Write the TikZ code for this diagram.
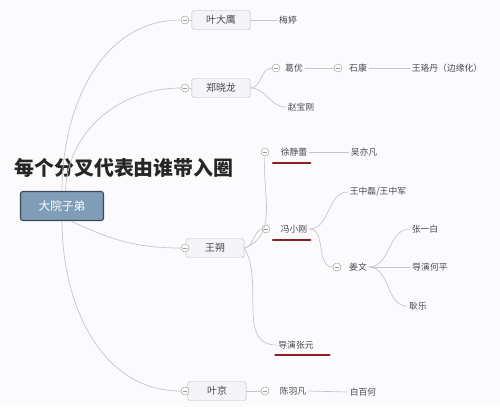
\documentclass[tikz,border=0pt]{standalone}
\usepackage{fontspec}
\newfontfamily\cjk{Noto Sans CJK SC}
\usetikzlibrary{positioning}
\definecolor{RootBlue}{HTML}{7F9DB6}
\definecolor{RootEdge}{HTML}{3E4853}
\definecolor{LinkGray}{HTML}{C6C6C8}
\definecolor{BoxEdge}{HTML}{BCBCBE}
\definecolor{BoxFill}{HTML}{F5F5F7}
\definecolor{TextGray}{HTML}{4A4A4E}
\definecolor{MarkRed}{HTML}{8C1E22}
\definecolor{PageBg}{HTML}{FBFBFD}

\begin{document}
\begin{tikzpicture}[x=0.03cm, y=-0.03cm,
    every node/.style={font=\cjk\fontsize{7.5}{9}\selectfont, text=TextGray},
    link/.style={draw=LinkGray, line width=0.6pt},
    rootbox/.style={draw=RootEdge, line width=0.9pt, fill=RootBlue, rounded corners=2pt, minimum width=2.49cm, minimum height=0.87cm, text=white, font=\cjk\fontsize{10}{12}\selectfont},
    branch/.style={draw=BoxEdge, fill=BoxFill, rounded corners=1.5pt, minimum width=1.75cm, minimum height=0.57cm, font=\cjk\fontsize{8.5}{10}\selectfont},
    leaf/.style={inner sep=1.5pt},
    fold/.style={circle, draw=gray!75, fill=white, inner sep=0pt, minimum size=0.24cm,
      path picture={\draw[gray!80, line width=0.5pt] ([xshift=-0.07cm]path picture bounding box.center) -- ([xshift=0.07cm]path picture bounding box.center);}},
    underline/.style={draw=MarkRed, line width=1.8pt, line cap=round}]
    \fill[PageBg] (0,0) rectangle (500,407);
    \useasboundingbox (0,0) rectangle (500,407);
    % root and title
    \node[rootbox] (root) at (62,206) {大院子弟};
    \node[font=\cjk\bfseries\fontsize{17}{19}\selectfont, text=black!85] (title) at (124,168) {每个分叉代表由谁带入圈};
    % first level
    \node[branch] (ydy) at (221,20) {叶大鹰};
    \node[fold] (fydy) at (185,20) {};
    \node[branch] (zxl) at (221,88) {郑晓龙};
    \node[fold] (fzxl) at (185,88) {};
    \node[branch] (ws) at (215,248) {王朔};
    \node[fold] (fws) at (185,248) {};
    \node[branch] (yj) at (217,391) {叶京};
    \node[fold] (fyj) at (185,391) {};
    % 叶大鹰 branch
    \node[leaf] (mt) at (288,20) {梅婷};
    % 郑晓龙 branch
    \node[fold] (fgy) at (276,68) {};
    \node[leaf] (gy) at (294,68) {葛优};
    \node[fold] (fsk) at (338,68) {};
    \node[leaf] (sk) at (358,68) {石康};
    \node[leaf] (wld) at (447,68) {王珞丹（边缘化）};
    \node[leaf] (zbg) at (301,107) {赵宝刚};
    % 王朔 branch
    \node[fold] (fxjl) at (265,152) {};
    \node[leaf] (xjl) at (294,152) {徐静蕾};
    \node[leaf] (wyf) at (364,152) {吴亦凡};
    \node[fold] (fxxg) at (266,229) {};
    \node[leaf] (xxg) at (294,229) {冯小刚};
    \node[leaf] (wzl) at (378,192) {王中磊/王中军};
    \node[fold] (fjw) at (337,267) {};
    \node[leaf] (jw) at (358,267) {姜文};
    \node[leaf] (zyb) at (425,229) {张一白};
    \node[leaf] (dhp) at (430,267) {导演何平};
    \node[leaf] (gl) at (418,306) {耿乐};
    \node[leaf] (dzy) at (296,345) {导演张元};
    % 叶京 branch
    \node[fold] (fcyf) at (265,391) {};
    \node[leaf] (cyf) at (293,391) {陈羽凡};
    \node[leaf] (bbh) at (363,392) {白百何};
    % links from root
    \draw[link] (root.north) to[out=90, in=180] (fydy.west);
    \draw[link] ([xshift=3pt]root.north) to[out=88, in=180] (fzxl.west);
    \draw[link] (root.-60) to[out=-25, in=180] (fws.west);
    \draw[link] (root.south) to[out=-90, in=180] (fyj.west);
    \draw[link] (fydy) -- (ydy);
    \draw[link] (fzxl) -- (zxl);
    \draw[link] (fws) -- (ws);
    \draw[link] (fyj) -- (yj);
    % second level links
    \draw[link] (ydy.east) -- (mt.west);
    \draw[link] (zxl.east) to[out=0, in=180] (fgy.west);
    \draw[link] (zxl.east) to[out=0, in=180] (zbg.west);
    \draw[link] (gy.east) -- (fsk.west);
    \draw[link] (sk.east) -- (wld.west);
    \draw[link] (ws.east) to[out=20, in=265] (fxjl.south);
    \draw[link] (ws.east) to[out=10, in=200] (fxxg.west);
    \draw[link] (ws.east) to[out=-60, in=180] (dzy.west);
    \draw[link] (xjl.east) -- (wyf.west);
    \draw[link] (xxg.east) to[out=0, in=180] (wzl.west);
    \draw[link] (xxg.east) to[out=0, in=180] (fjw.west);
    \draw[link] (jw.east) to[out=0, in=180] (zyb.west);
    \draw[link] (jw.east) -- (dhp.west);
    \draw[link] (jw.east) to[out=0, in=180] (gl.west);
    \draw[link] (yj.east) -- (fcyf.west);
    \draw[link] (cyf.east) -- (bbh.west);
    % red marks
    \draw[underline] ([xshift=-5pt, yshift=-4pt]xjl.south west) -- ([xshift=1pt, yshift=-4pt]xjl.south east);
    \draw[underline] ([xshift=-5pt, yshift=-4pt]xxg.south west) -- ([xshift=1pt, yshift=-4pt]xxg.south east);
    \draw[underline] ([xshift=-1pt, yshift=-3pt]dzy.south west) -- ([xshift=12pt, yshift=-3pt]dzy.south east);
\end{tikzpicture}
\end{document}
